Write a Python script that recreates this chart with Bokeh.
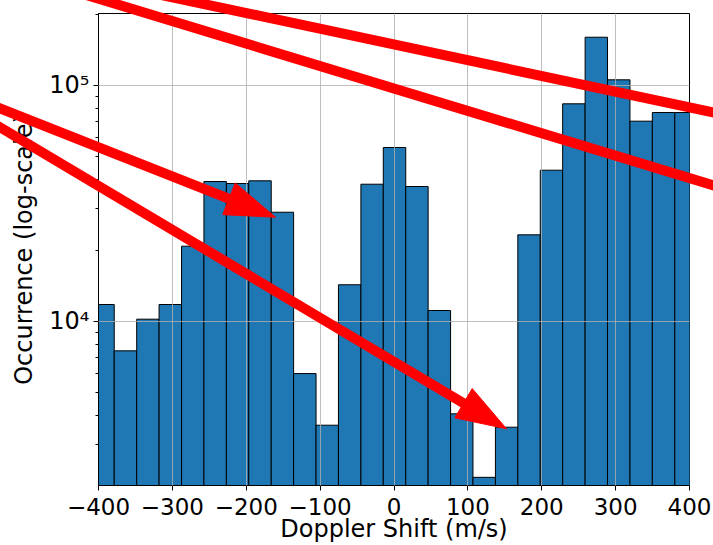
import math

from bokeh.embed import file_html
from bokeh.models import ColumnDataSource, FixedTicker, Range1d
from bokeh.plotting import figure
from bokeh.resources import INLINE

# Histogram of Doppler shifts (m/s): bin edges and occurrence counts
bin_edges = [-409.0, -378.7, -348.3, -318.0, -287.6, -257.3, -226.9, -196.6,
             -166.2, -135.9, -105.5, -75.2, -44.8, -14.5, 15.9, 46.2, 76.6,
             106.9, 137.3, 167.6, 198.0, 228.3, 258.7, 289.0, 319.4, 349.7,
             380.1, 410.4]
counts = [11770, 7490, 10200, 11770, 20790, 39080, 38320, 39350, 28960,
          6000, 3625, 14270, 38060, 54450, 37220, 11100, 4050, 2180, 3555,
          23230, 43630, 83400, 159700, 105400, 70400, 76600, 76600]

x_ticks = [-400, -300, -200, -100, 0, 100, 200, 300, 400]
y_major = [1e4, 1e5]
y_minor = [3e3, 4e3, 5e3, 6e3, 7e3, 8e3, 9e3,
           2e4, 3e4, 4e4, 5e4, 6e4, 7e4, 8e4, 9e4, 2e5]

X_MIN, X_MAX = -400, 400
Y_MIN, Y_MAX = 2013, 201300

# canvas layout
W, H = 713, 545
LEFT, RIGHT, TOP, BOTTOM = 98, 24, 13, 60
FW, FH = W - LEFT - RIGHT, H - TOP - BOTTOM

FONT = "DejaVu Sans"

p = figure(width=W, height=H, output_backend="svg", toolbar_location=None,
           x_range=Range1d(X_MIN, X_MAX), y_range=Range1d(Y_MIN, Y_MAX),
           y_axis_type="log", min_border_left=LEFT, min_border_right=RIGHT,
           min_border_top=TOP, min_border_bottom=BOTTOM)
p.background_fill_color = "white"
p.border_fill_color = "white"
p.outline_line_color = "black"
p.outline_line_width = 1
p.outline_line_alpha = 1

src = ColumnDataSource(dict(left=bin_edges[:-1], right=bin_edges[1:],
                            top=counts, bottom=[1] * len(counts)))
p.quad(left="left", right="right", top="top", bottom="bottom", source=src,
       fill_color="#1f77b4", line_color="black", line_width=1)

# axes
p.xaxis.ticker = FixedTicker(ticks=x_ticks)
p.xaxis.major_label_overrides = {t: str(t).replace("-", "\u2212") for t in x_ticks}
p.yaxis.ticker = FixedTicker(ticks=y_major, minor_ticks=y_minor)
p.yaxis.major_label_overrides = {1e4: "10\u2074", 1e5: "10\u2075"}

for ax in (p.xaxis[0], p.yaxis[0]):
    ax.axis_line_color = "black"
    ax.axis_line_width = 1
    ax.major_tick_line_color = "black"
    ax.major_tick_out = 5
    ax.major_tick_in = 0
    ax.minor_tick_line_color = "black"
    ax.minor_tick_out = 3
    ax.minor_tick_in = 0
    ax.major_label_text_font = FONT
    ax.major_label_text_color = "black"
    ax.axis_label_text_font = FONT
    ax.axis_label_text_font_style = "normal"
    ax.axis_label_text_color = "black"

p.xaxis.minor_tick_line_color = None
p.xaxis.axis_label = "Doppler Shift (m/s)"
p.yaxis.axis_label = "Occurrence (log-scale)"
p.xaxis.major_label_text_font_size = "23px"
p.yaxis.major_label_text_font_size = "24px"
p.xaxis.axis_label_text_font_size = "24px"
p.yaxis.axis_label_text_font_size = "24px"
p.xaxis.major_label_text_line_height = 0.8
p.xaxis.axis_label_text_line_height = 0.8
p.xaxis.major_label_standoff = 7
p.yaxis.major_label_standoff = 4
p.xaxis.axis_label_standoff = -3
p.yaxis.axis_label_standoff = 8

# grid drawn above the bars
for g in (p.xgrid[0], p.ygrid[0]):
    g.grid_line_color = "#b0b0b0"
    g.grid_line_width = 1
    g.grid_line_alpha = 0.8
    g.level = "guide"
p.xgrid.ticker = FixedTicker(ticks=x_ticks)
p.ygrid.ticker = FixedTicker(ticks=y_major)


# helper mapping canvas pixels -> data space (log y)
def to_data(px, py):
    x = X_MIN + (px - LEFT) * (X_MAX - X_MIN) / FW
    ly = math.log10(Y_MAX) - (py - TOP) * (math.log10(Y_MAX) - math.log10(Y_MIN)) / FH
    return x, 10 ** ly


RED = "red"
LW = 10
HEAD_LEN, HEAD_W = 50, 34


def extend(a, b, before, after):
    (x0, y0), (x1, y1) = a, b
    n = math.hypot(x1 - x0, y1 - y0)
    ux, uy = (x1 - x0) / n, (y1 - y0) / n
    return (x0 - ux * before, y0 - uy * before), (x1 + ux * after, y1 + uy * after)


def red_stroke(a, b):
    pts = [to_data(*a), to_data(*b)]
    p.line([q[0] for q in pts], [q[1] for q in pts], line_color=RED,
           line_width=LW, line_cap="butt", level="overlay")


# two long strokes crossing the top of the chart
for a, b in [((196, 2), (713, 112)), ((104, 0), (713, 185))]:
    red_stroke(*extend(a, b, 60, 60))

# two arrows pointing at bar tops: tail, tip
for tail, tip in [((0, 108), (275, 216.7)), ((0, 127), (506, 428.3))]:
    (tx, ty), _ = extend(tail, tip, 60, 0)
    hx, hy = tip
    n = math.hypot(hx - tx, hy - ty)
    ux, uy = (hx - tx) / n, (hy - ty) / n
    bx, by = hx - HEAD_LEN * ux, hy - HEAD_LEN * uy
    red_stroke((tx, ty), (bx + 3 * ux, by + 3 * uy))
    corners = [(hx, hy),
               (bx - uy * HEAD_W / 2, by + ux * HEAD_W / 2),
               (bx + uy * HEAD_W / 2, by - ux * HEAD_W / 2)]
    pts = [to_data(*c) for c in corners]
    p.patch([q[0] for q in pts], [q[1] for q in pts], fill_color=RED,
            line_color=RED, line_width=1, level="overlay")

open("out.html", "w").write(file_html(p, INLINE))
